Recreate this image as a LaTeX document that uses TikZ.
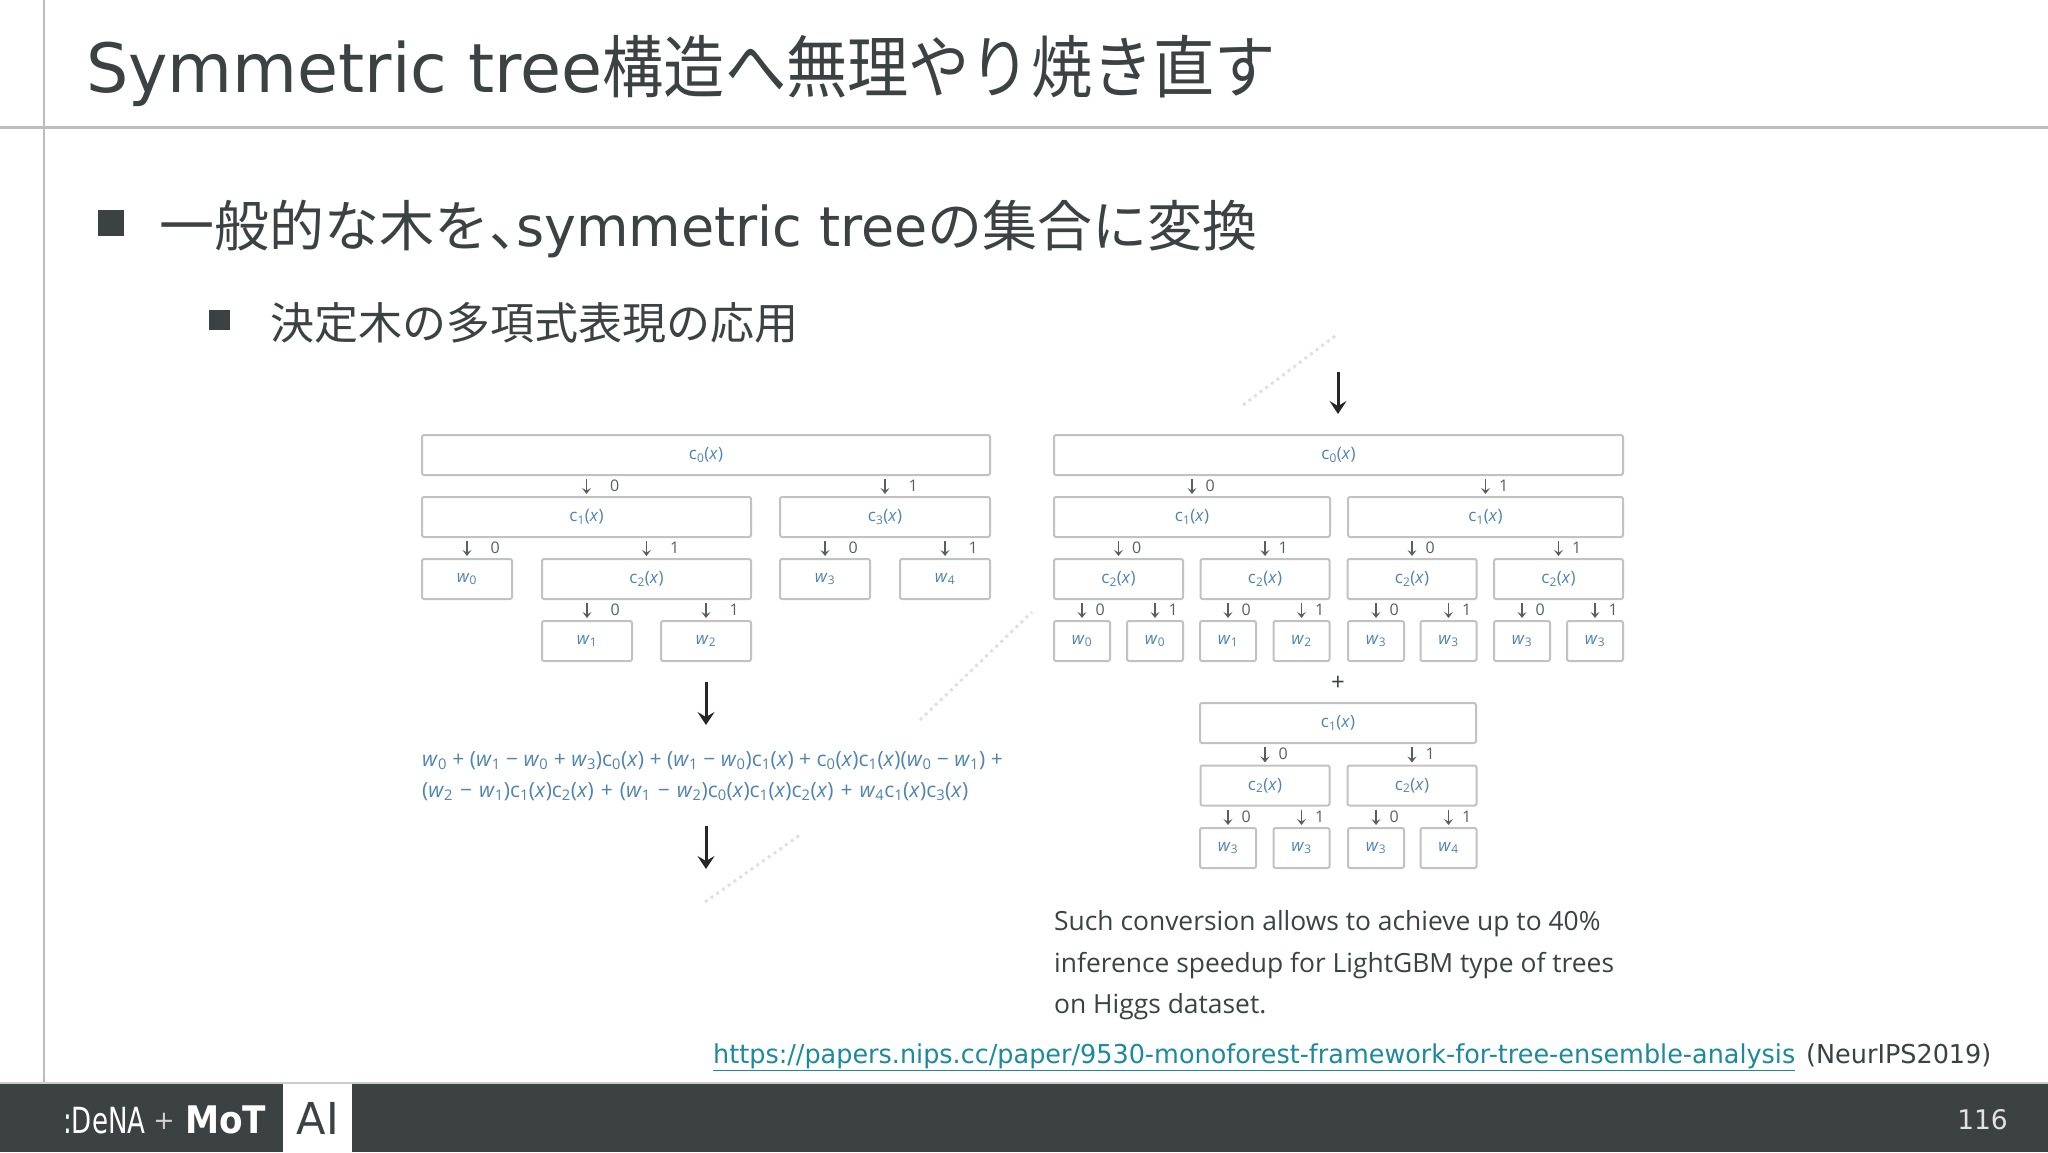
\documentclass[tikz,border=0pt]{standalone}
\usepackage{fontspec}
\usetikzlibrary{arrows.meta}
\setmainfont{DejaVu Sans}[FakeStretch=0.98]
\newfontfamily\cjk{Noto Sans CJK JP}
\newfontfamily\cjktight{Noto Sans CJK JP}[FakeStretch=0.90]
\newfontfamily\opensans{Open Sans}
\definecolor{inkgray}{HTML}{3C4141}
\definecolor{rulegray}{HTML}{BDBDBD}
\definecolor{boxgray}{HTML}{C2C2C2}
\definecolor{labblue}{HTML}{4F84B0}
\definecolor{linkteal}{HTML}{1B8A9C}
\newcommand{\cfun}[1]{c\textsubscript{#1}(\textit{x})}
\newcommand{\wgt}[1]{\textit{w}\textsubscript{#1}}

\begin{document}
\begin{tikzpicture}[x=1pt,y=-1pt,
    titletext/.style={anchor=base west,inner sep=0pt,text=inkgray,font=\fontsize{68}{80}\selectfont},
    itemtext/.style={anchor=base west,inner sep=0pt,text=inkgray,font=\fontsize{55}{66}\selectfont},
    subtext/.style={anchor=base west,inner sep=0pt,text=inkgray,font=\fontsize{44}{52}\selectfont},
    treebox/.style={draw=boxgray,line width=2pt,rounded corners=2pt,fill=white,inner sep=0pt,minimum height=40pt,text=labblue,font=\opensans\fontsize{17}{20}\selectfont},
    treearrow/.style={-{Stealth[length=6pt,width=9pt,inset=2.5pt]},line width=1.2pt,draw=inkgray!85,shorten <=3pt,shorten >=2pt},
    branchwide/.style={right=23pt,inner sep=0pt,text=inkgray!85,font=\opensans\fontsize{16}{18}\selectfont},
    branchtight/.style={right=13pt,inner sep=0pt,text=inkgray!85,font=\opensans\fontsize{16}{18}\selectfont},
    bigarrow/.style={-{Stealth[length=13pt,width=17pt,inset=5pt]},line width=3pt,draw=black!85},
    faintdots/.style={loosely dotted,line width=3pt,draw=black!12},
    formula/.style={anchor=base west,inner sep=0pt,text=labblue,font=\opensans\fontsize{21}{25}\selectfont},
    remark/.style={anchor=base west,inner sep=0pt,text=inkgray,font=\opensans\fontsize{26.4}{32}\selectfont},
    footertext/.style={anchor=base west,inner sep=0pt,text=inkgray,font=\fontsize{26}{30}\selectfont}]
    \useasboundingbox (0,0) rectangle (2048,1152);
    % 枠線
    \draw[rulegray,line width=2.5pt] (44,0)--(44,1083);
    \draw[rulegray,line width=3pt] (0,127)--(2048,127);
    % 見出し
    \node[titletext] (title) at (86,92) {Symmetric tree{\cjktight 構造へ無理やり焼き直す}};
    \fill[inkgray] (98,210) rectangle (124,236);
    \node[itemtext] (item) at (159,246) {{\cjk 一般的な木を、}\hspace{-28pt}symmetric tree{\cjk の集合に変換}};
    \fill[inkgray] (209,310) rectangle (230,330);
    \node[subtext] (sub) at (270,339) {\cjk 決定木の多項式表現の応用};
    % 背景の点線
    \coordinate (dotsa) at (1243,405);
    \coordinate (dotsb) at (1335,336);
    \coordinate (dotsc) at (920,720);
    \coordinate (dotsd) at (1032,612);
    \coordinate (dotse) at (705,902);
    \coordinate (dotsf) at (800,835);
    \draw[faintdots] (dotsa)--(dotsb);
    \draw[faintdots] (dotsc)--(dotsd);
    \draw[faintdots] (dotse)--(dotsf);
    % 左の木
    \node[treebox,minimum width=568pt] (lroot) at (706,455) {\cfun{0}};
    \node[treebox,minimum width=329pt] (lca) at (586.5,517) {\cfun{1}};
    \node[treebox,minimum width=210pt] (lcb) at (885,517) {\cfun{3}};
    \node[treebox,minimum width=90pt] (lwa) at (467,579) {\wgt{0}};
    \node[treebox,minimum width=209pt] (lcc) at (646.5,579) {\cfun{2}};
    \node[treebox,minimum width=90pt] (lwd) at (825,579) {\wgt{3}};
    \node[treebox,minimum width=90pt] (lwe) at (945,579) {\wgt{4}};
    \node[treebox,minimum width=90pt] (lwb) at (587,641) {\wgt{1}};
    \node[treebox,minimum width=90pt] (lwc) at (706,641) {\wgt{2}};
    \draw[treearrow] (lroot.south -| lca)-- node[branchwide] {0} (lca.north);
    \draw[treearrow] (lroot.south -| lcb)-- node[branchwide] {1} (lcb.north);
    \draw[treearrow] (lca.south -| lwa)-- node[branchwide] {0} (lwa.north);
    \draw[treearrow] (lca.south -| lcc)-- node[branchwide] {1} (lcc.north);
    \draw[treearrow] (lcb.south -| lwd)-- node[branchwide] {0} (lwd.north);
    \draw[treearrow] (lcb.south -| lwe)-- node[branchwide] {1} (lwe.north);
    \draw[treearrow] (lcc.south -| lwb)-- node[branchwide] {0} (lwb.north);
    \draw[treearrow] (lcc.south -| lwc)-- node[branchwide] {1} (lwc.north);
    % 多項式
    \coordinate (arrowa) at (706,682);
    \coordinate (arrowb) at (706,725);
    \draw[bigarrow] (arrowa)--(arrowb);
    \node[formula] (polya) at (422,766) {\wgt{0} + (\wgt{1} − \wgt{0} + \wgt{3})\cfun{0} + (\wgt{1} − \wgt{0})\cfun{1} + \cfun{0}\cfun{1}(\wgt{0} − \wgt{1}) +};
    \node[formula] (polyb) at (422,797) {\spaceskip=7pt (\wgt{2} − \wgt{1})\cfun{1}\cfun{2} + (\wgt{1} − \wgt{2})\cfun{0}\cfun{1}\cfun{2} + \wgt{4}\cfun{1}\cfun{3}};
    \coordinate (arrowc) at (706,826);
    \coordinate (arrowd) at (706,869);
    \draw[bigarrow] (arrowc)--(arrowd);
    % 右の木
    \coordinate (arrowe) at (1338,372);
    \coordinate (arrowf) at (1338,414);
    \draw[bigarrow] (arrowe)--(arrowf);
    \node[treebox,minimum width=569pt] (rroot) at (1338.5,455) {\cfun{0}};
    \node[treebox,minimum width=276pt] (rca) at (1192,517) {\cfun{1}};
    \node[treebox,minimum width=275pt] (rcb) at (1485.5,517) {\cfun{1}};
    \draw[treearrow] (rroot.south -| rca)-- node[branchtight] {0} (rca.north);
    \draw[treearrow] (rroot.south -| rcb)-- node[branchtight] {1} (rcb.north);
    \foreach \n/\px in {a/1118.5,b/1265,c/1412,d/1558.5}{
        \node[treebox,minimum width=129pt] (rd\n) at (\px,579) {\cfun{2}};
    }
    \draw[treearrow] (rca.south -| rda)-- node[branchtight] {0} (rda.north);
    \draw[treearrow] (rca.south -| rdb)-- node[branchtight] {1} (rdb.north);
    \draw[treearrow] (rcb.south -| rdc)-- node[branchtight] {0} (rdc.north);
    \draw[treearrow] (rcb.south -| rdd)-- node[branchtight] {1} (rdd.north);
    \foreach \n/\px/\val/\up/\bit in {a/1082/0/rda/0,b/1155/0/rda/1,c/1228/1/rdb/0,d/1301.5/2/rdb/1,e/1376/3/rdc/0,f/1448.5/3/rdc/1,g/1522/3/rdd/0,h/1595/3/rdd/1}{
        \node[treebox,minimum width=56pt] (rw\n) at (\px,641) {\wgt{\val}};
        \draw[treearrow] (\up.south -| rw\n)-- node[branchtight] {\bit} (rw\n.north);
    }
    \node[inner sep=0pt,text=inkgray,font=\opensans\fontsize{24}{28}\selectfont] (plus) at (1338,683) {+};
    % 下の木
    \node[treebox,minimum width=276pt] (sroot) at (1338,723) {\cfun{1}};
    \node[treebox,minimum width=129pt] (sca) at (1265,785.5) {\cfun{2}};
    \node[treebox,minimum width=129pt] (scb) at (1412,785.5) {\cfun{2}};
    \draw[treearrow] (sroot.south -| sca)-- node[branchtight] {0} (sca.north);
    \draw[treearrow] (sroot.south -| scb)-- node[branchtight] {1} (scb.north);
    \foreach \n/\px/\val/\up/\bit in {a/1228/3/sca/0,b/1301.5/3/sca/1,c/1376/3/scb/0,d/1448.5/4/scb/1}{
        \node[treebox,minimum width=56pt] (sw\n) at (\px,848) {\wgt{\val}};
        \draw[treearrow] (\up.south -| sw\n)-- node[branchtight] {\bit} (sw\n.north);
    }
    % 説明文
    \node[remark] (rema) at (1054,930) {Such conversion allows to achieve up to 40\%};
    \node[remark] (remb) at (1054,972) {inference speedup for LightGBM type of trees};
    \node[remark] (remc) at (1054,1013) {on Higgs dataset.};
    \node[footertext,text=linkteal] (link) at (713,1063) {\underline{https://papers.nips.cc/paper/9530-monoforest-framework-for-tree-ensemble-analysis}};
    \node[footertext] (venue) at (1806,1063) {(NeurIPS2019)};
    % フッター
    \draw[black!20,line width=2pt] (0,1083)--(2048,1083);
    \fill[inkgray] (0,1084) rectangle (2048,1152);
    \fill[white] (283,1084) rectangle (352,1152);
    \node[anchor=base west,inner sep=0pt,text=white,font=\fontsize{36}{40}\selectfont,xscale=0.74] (dena) at (63,1133) {:DeNA};
    \node[anchor=base,inner sep=0pt,text=white!75!inkgray,font=\fontsize{26}{30}\selectfont] (logoplus) at (164,1129) {+};
    \node[anchor=base west,inner sep=0pt,text=white,font=\bfseries\fontsize{38}{40}\selectfont,xscale=0.92] (mot) at (185,1133) {MoT};
    \node[anchor=base,inner sep=0pt,text=inkgray,font=\fontsize{44}{48}\selectfont] (ai) at (318,1134) {AI};
    \node[anchor=base east,inner sep=0pt,text=white!85!inkgray,font=\fontsize{27}{30}\selectfont] (page) at (2008,1129) {116};
\end{tikzpicture}
\end{document}
